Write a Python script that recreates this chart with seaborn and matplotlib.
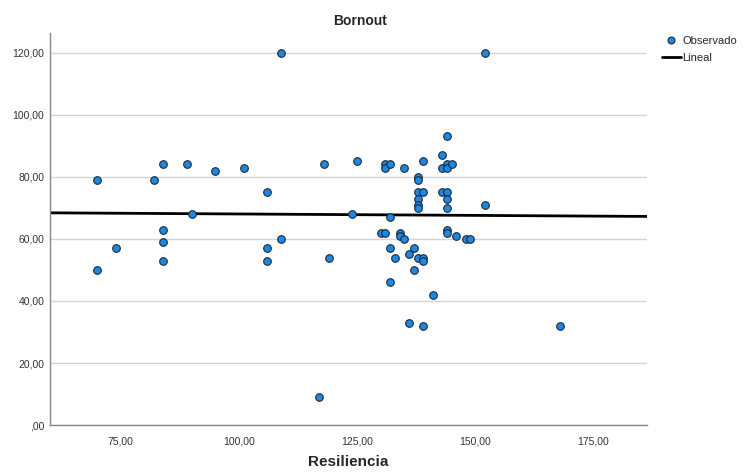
import numpy as np
import pandas as pd
import matplotlib
matplotlib.use("Agg")
import matplotlib.pyplot as plt
from matplotlib.ticker import FuncFormatter, MultipleLocator
from matplotlib.lines import Line2D
import seaborn as sns

# Valores (Resiliencia vs Bornout)
resiliencia = [70, 70, 74, 82, 84, 84, 84, 84, 89, 90, 95, 101, 106, 106, 106,
               109, 109, 117, 118, 119, 124, 125, 130, 131, 131, 131, 132, 132,
               132, 132, 133, 134, 134, 135, 135, 136, 136, 137, 137, 138, 138,
               138, 138, 138, 138, 138, 139, 139, 139, 139, 139, 141, 143, 143,
               143, 144, 144, 144, 144, 144, 144, 144, 144, 145, 146, 148, 149,
               152, 152, 168]
bornout = [79, 50, 57, 79, 84, 63, 59, 53, 84, 68, 82, 83, 75, 57, 53,
           120, 60, 9, 84, 54, 68, 85, 62, 62, 84, 83, 84, 67,
           57, 46, 54, 62, 61, 60, 83, 55, 33, 57, 50, 80, 79,
           75, 73, 71, 70, 54, 85, 75, 54, 53, 32, 42, 87, 83,
           75, 93, 84, 83, 75, 73, 70, 63, 62, 84, 61, 60, 60,
           120, 71, 32]

df = pd.DataFrame({"Resiliencia": resiliencia, "Bornout": bornout})

sns.set_style("white")
plt.rcParams['font.family'] = ['Liberation Sans', 'DejaVu Sans']

fig = plt.figure(figsize=(7.53, 4.76), dpi=100)
ax = fig.add_axes([0.0664, 0.107, 0.793, 0.824])

ax.set_xlim(60, 186.4)
ax.set_ylim(0, 126.4)

# Lineas de cuadricula horizontales
ax.yaxis.set_major_locator(MultipleLocator(20))
ax.xaxis.set_major_locator(MultipleLocator(25))
ax.grid(axis="y", color="#d4d4d4", linewidth=1)
ax.set_axisbelow(True)

sns.regplot(data=df, x="Resiliencia", y="Bornout", scatter=False, ci=None,
            truncate=False, color="black", line_kws={"linewidth": 2}, ax=ax)
sns.scatterplot(data=df, x="Resiliencia", y="Bornout", s=30, color="#1e88e0",
                edgecolor="#1a2a3a", linewidth=0.8, ax=ax, zorder=3)

def coma(v, pos):
    s = f"{v:.2f}".replace(".", ",")
    if s.startswith("0,"):
        s = s[1:]
    return s

ax.xaxis.set_major_formatter(FuncFormatter(coma))
ax.yaxis.set_major_formatter(FuncFormatter(coma))
ax.tick_params(axis="both", length=0, labelsize=7.5, colors="#333333")
ax.tick_params(axis="x", pad=8)
ax.tick_params(axis="y", pad=4)

for side in ["top", "right"]:
    ax.spines[side].set_visible(False)
for side in ["left", "bottom"]:
    ax.spines[side].set_color("#888888")
    ax.spines[side].set_linewidth(1)

ax.set_title("Bornout", fontsize=10, fontweight="bold", pad=6, x=0.52)
ax.set_xlabel("Resiliencia", fontsize=11, fontweight="bold", labelpad=6)
ax.set_ylabel("")

handles = [
    Line2D([], [], marker="o", linestyle="none", markersize=5,
           markerfacecolor="#1e88e0", markeredgecolor="#1a2a3a",
           markeredgewidth=0.8, label="Observado"),
    Line2D([], [], color="black", linewidth=2, label="Lineal"),
]
fig.legend(handles=handles, loc="upper left", bbox_to_anchor=(0.879, 0.924),
           frameon=False, fontsize=8, handlelength=1.7, handletextpad=0.15,
           labelspacing=0.6, borderaxespad=0, borderpad=0)

fig.savefig("out.png", dpi=100)
